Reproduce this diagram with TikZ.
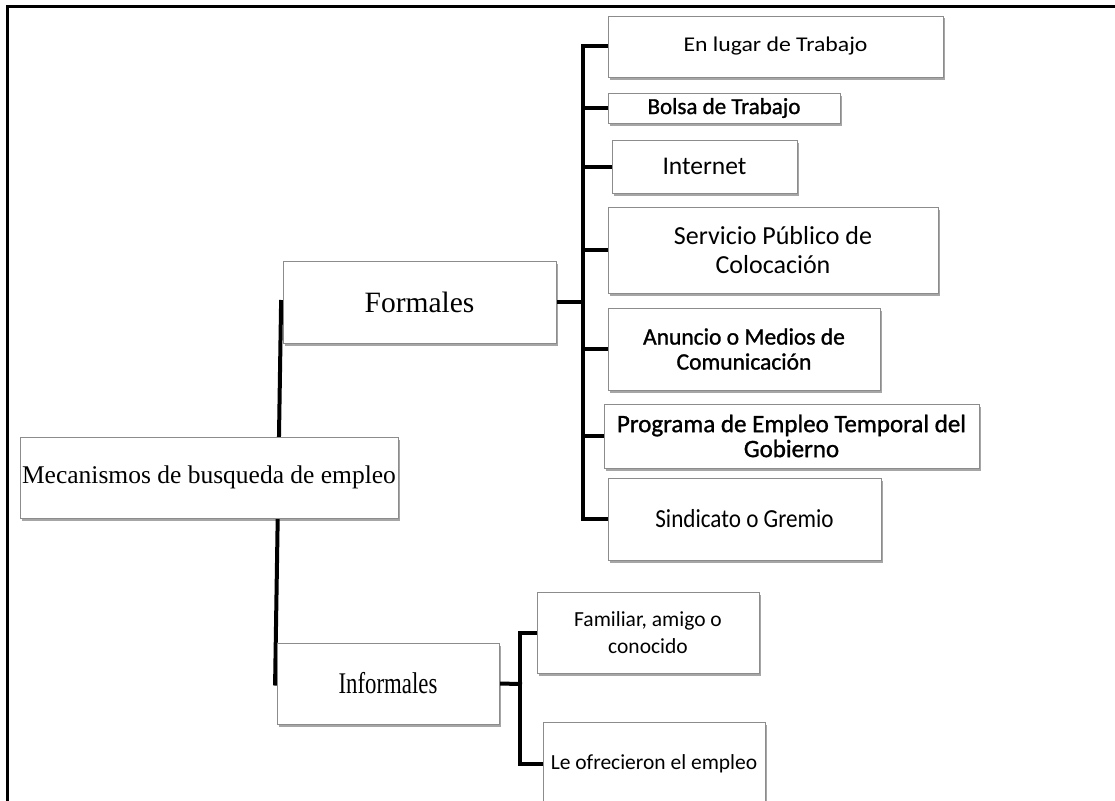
\documentclass[tikz,border=0pt]{standalone}
\usepackage{fontspec}
\setmainfont{Liberation Serif}
\newfontfamily\calfont{Carlito}
\newfontfamily\calsemi[FakeBold=1.2]{Carlito}
\usetikzlibrary{shadows,backgrounds}
\begin{document}
\begin{tikzpicture}[x=1pt,y=-1pt,
  box/.style={draw=black!45, line width=0.8pt, fill=white, inner sep=0pt, align=center,
    drop shadow={shadow xshift=1.5pt, shadow yshift=-2.5pt, opacity=0.35, fill=black}},
  conn/.style={line width=4pt, line cap=rect, black},
  frameline/.style={line width=3pt, black}]
\useasboundingbox (0,0) rectangle (1115,800);
\draw[frameline] (7,810) -- (7,7) -- (1125,7);

% level 0 and 1
\node[box, minimum width=378pt, minimum height=81pt, font=\fontsize{25.5}{28}\selectfont] (root) at (209,477.5) {Mecanismos de busqueda de empleo};
\node[box, minimum width=273pt, minimum height=82pt, font=\fontsize{29.5}{32}\selectfont] (formales) at (419.5,302) {Formales};
\node[box, minimum width=222pt, minimum height=81pt, font=\fontsize{30}{32}\selectfont] (informales) at (388,683.5) {\scalebox{0.76}[1]{Informales}};

% formal children
\node[box, minimum width=335pt, minimum height=61pt, font=\calfont\fontsize{21}{25}\selectfont] (lugar) at (775.5,46.5) {\scalebox{1.13}[1]{En lugar de Trabajo}};
\node[box, minimum width=232pt, minimum height=30pt, font=\calsemi\fontsize{23}{25}\selectfont] (bolsa) at (724,108) {Bolsa de Trabajo};
\node[box, minimum width=185pt, minimum height=53pt, font=\calfont\fontsize{25.5}{28}\selectfont] (internet) at (704.5,166.5) {Internet};
\node[box, minimum width=330pt, minimum height=86pt, font=\calfont\fontsize{26}{29}\selectfont] (servicio) at (773,250) {Servicio Público de\\Colocación};
\node[box, minimum width=272pt, minimum height=82pt, font=\calsemi\fontsize{23.5}{25}\selectfont] (anuncio) at (744,349) {Anuncio o Medios de\\Comunicación};
\node[box, minimum width=375pt, minimum height=64pt, font=\calsemi\fontsize{25}{25}\selectfont] (programa) at (791.5,436) {Programa de Empleo Temporal del\\Gobierno};
\node[box, minimum width=273pt, minimum height=82pt, font=\calfont\fontsize{26}{29}\selectfont] (sindicato) at (744.5,519) {\scalebox{0.89}[1]{Sindicato o Gremio}};

% informal children
\node[box, minimum width=222pt, minimum height=81pt, font=\calfont\fontsize{21.5}{27}\selectfont] (familiar) at (648,632.5) {Familiar, amigo o\\conocido};
\node[box, minimum width=222pt, minimum height=83pt, font=\calfont\fontsize{21.5}{25}\selectfont] (ofrecieron) at (654,763.5) {Le ofrecieron el empleo};

\coordinate (fb) at (583,302);
\coordinate (ib) at (520,684);

\begin{scope}[on background layer]
  \draw[conn] ([xshift=-1.5pt]formales.west) -- ([xshift=-1.5pt]informales.west);
  \draw[conn] (formales.east) -- (fb);
  \draw[conn] (fb |- lugar.west) -- (fb |- sindicato.west);
  \foreach \n in {lugar,bolsa,internet,servicio,anuncio,programa,sindicato}
    \draw[conn] (fb |- \n.west) -- (\n.west);
  \draw[conn] (informales.east) -- (ib);
  \draw[conn] (ib |- familiar.west) -- (ib |- ofrecieron.west);
  \foreach \n in {familiar,ofrecieron}
    \draw[conn] (ib |- \n.west) -- (\n.west);
\end{scope}
\end{tikzpicture}
\end{document}
